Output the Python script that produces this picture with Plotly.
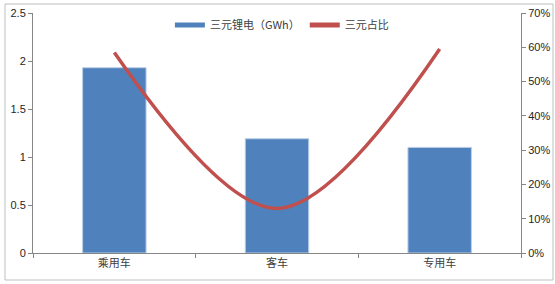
import plotly.graph_objects as go

categories = ["乘用车", "客车", "专用车"]
ternary_gwh = [1.93, 1.19, 1.10]
ternary_share = [0.585, 0.13, 0.595]
bar_name = "三元锂电（GWh）"
line_name = "三元占比"
left_ticks = [0, 0.5, 1, 1.5, 2, 2.5]
left_labels = ["0", "0.5", "1", "1.5", "2", "2.5"]
right_ticks = [0, 0.1, 0.2, 0.3, 0.4, 0.5, 0.6, 0.7]
right_labels = ["0%", "10%", "20%", "30%", "40%", "50%", "60%", "70%"]

BLUE = "#4F81BD"
RED = "#C0504D"
AX = "#868686"

fig = go.Figure()
fig.add_trace(go.Bar(x=categories, y=ternary_gwh, marker=dict(color=BLUE, line=dict(color="#B9CDE5", width=1)),
                     width=0.39, showlegend=False, yaxis="y"))
fig.add_trace(go.Scatter(x=categories, y=ternary_share, mode="lines",
                         line=dict(color=RED, width=3.5, shape="spline", smoothing=1),
                         showlegend=False, yaxis="y2"))
# legend proxies
fig.add_trace(go.Scatter(x=[None], y=[None], mode="lines", name=bar_name,
                         line=dict(color=BLUE, width=5)))
fig.add_trace(go.Scatter(x=[None], y=[None], mode="lines", name=line_name,
                         line=dict(color=RED, width=5), yaxis="y2"))

tickfont = dict(family="Liberation Sans, Arial", size=11, color="#262626")
fig.update_layout(
    width=555, height=284,
    margin=dict(l=33, r=34, t=13, b=31, autoexpand=False),
    paper_bgcolor="white", plot_bgcolor="white",
    xaxis=dict(type="category", showline=True, linecolor=AX, linewidth=1,
               ticks="outside", tickson="boundaries", ticklen=4, tickcolor=AX,
               tickfont=dict(family="Noto Sans CJK SC", size=11, color="#404040"),
               showgrid=False, zeroline=False, automargin=False),
    yaxis=dict(range=[0, 2.5], tickvals=left_ticks, ticktext=left_labels,
               showline=True, linecolor=AX, ticks="outside", ticklen=4, tickcolor=AX,
               tickfont=tickfont, showgrid=False, zeroline=False, automargin=False),
    yaxis2=dict(range=[0, 0.7], tickvals=right_ticks, ticktext=right_labels,
                overlaying="y", side="right",
                showline=True, linecolor=AX, ticks="outside", ticklen=4, tickcolor=AX,
                tickfont=tickfont, showgrid=False, zeroline=False, automargin=False),
    legend=dict(orientation="h", x=0.51, xanchor="center", y=0.95, yanchor="middle",
                font=dict(family="Noto Sans CJK SC", size=11, color="#404040"),
                bgcolor="rgba(0,0,0,0)", itemwidth=30, tracegroupgap=0),
    shapes=[dict(type="rect", xref="paper", yref="paper",
                 x0=-0.0574, x1=1.0656, y0=-0.1125, y1=1.0375,
                 line=dict(color="#BFBFBF", width=1), fillcolor="rgba(0,0,0,0)", layer="below")],
    bargap=0.6,
)
fig.write_html("out.html")
